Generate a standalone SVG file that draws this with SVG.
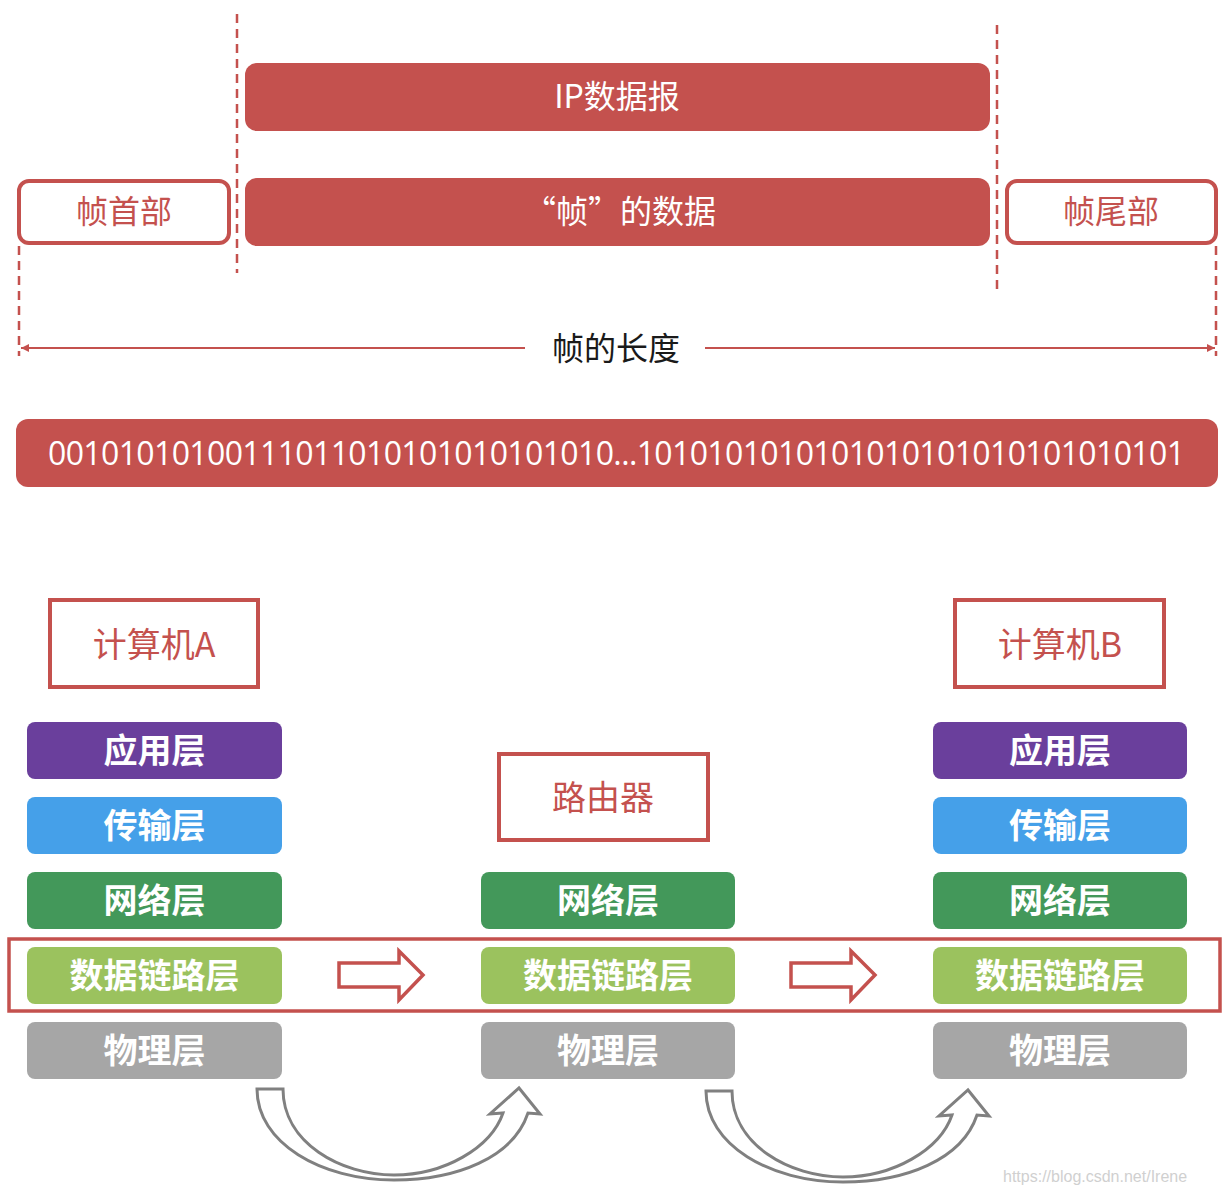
<svg xmlns="http://www.w3.org/2000/svg" width="1226" height="1194" viewBox="0 0 1226 1194">
<defs>
<style>
.bar{fill:#C4514E}
.hdr{fill:#fff;stroke:#C4514E;stroke-width:4}
.box{fill:#fff;stroke:#C4514E;stroke-width:4}
.dash{stroke:#C4514E;stroke-width:2.5;stroke-dasharray:9 6;fill:none}
.t{font-family:"Noto Sans CJK SC","Noto Sans",sans-serif;text-anchor:middle}
.tr{fill:#C4514E;font-size:32px}
.tw{fill:#fff;font-size:32px}
.tb{fill:#fff;font-size:34px;font-weight:bold}
.ap{fill:#6A3F9C}.tp{fill:#45A0E9}.nw{fill:#43985A}.dl{fill:#9BC25E}.ph{fill:#A6A6A6}
.blk{fill:#fff;stroke:#C4514E;stroke-width:3.5;stroke-linejoin:miter}
.crv{fill:#fff;stroke:#808080;stroke-width:3;stroke-linejoin:miter}
</style>
<marker id="ah" viewBox="0 0 10 10" refX="10" refY="5" markerWidth="10" markerHeight="8" markerUnits="userSpaceOnUse" orient="auto-start-reverse">
<path d="M0,0 L10,5 L0,10 Z" fill="#C4514E"/>
</marker>
</defs>
<rect width="1226" height="1194" fill="#fff"/>

<g id="connectors">
<line class="dash" x1="237" y1="14" x2="237" y2="273"/>
<line class="dash" x1="997" y1="25" x2="997" y2="295"/>
<line class="dash" x1="19" y1="246" x2="19" y2="356"/>
<line class="dash" x1="1216" y1="246" x2="1216" y2="356"/>
<line x1="21" y1="348" x2="525" y2="348" stroke="#C4514E" stroke-width="2" marker-start="url(#ah)"/>
<line x1="705" y1="348" x2="1215" y2="348" stroke="#C4514E" stroke-width="2" marker-end="url(#ah)"/>
<path id="blk1" class="blk" d="M339,963 L399,963 L399,951 L423,975 L399,1000 L399,987 L339,987 Z"/>
<path id="blk2" class="blk" transform="translate(452,0)" d="M339,963 L399,963 L399,951 L423,975 L399,1000 L399,987 L339,987 Z"/>
<path id="crv2" class="crv" d="M706,1091 L732,1091 C732,1145 790,1177 843,1177 C893,1177 940,1150 952,1115 L939,1116 L968,1090 L989,1116 L977,1115 C962,1160 905,1182 843,1182 C770,1182 706,1145 706,1091 Z"/>
<path id="crv1" class="crv" transform="translate(-449,-2)" d="M706,1091 L732,1091 C732,1145 790,1177 843,1177 C893,1177 940,1150 952,1115 L939,1116 L968,1090 L989,1116 L977,1115 C962,1160 905,1182 843,1182 C770,1182 706,1145 706,1091 Z"/>
</g>

<g id="ip-datagram"><rect class="bar" x="245" y="63" width="745" height="68" rx="12"/><text class="t tw" x="617" y="108">IP数据报</text></g>
<g id="frame-data"><rect class="bar" x="245" y="178" width="745" height="68" rx="12"/><text class="t tw" x="620" y="223">“帧”的数据</text></g>
<g id="frame-header"><rect class="hdr" x="19" y="181" width="210" height="62" rx="10"/><text class="t tr" x="124" y="223">帧首部</text></g>
<g id="frame-trailer"><rect class="hdr" x="1007" y="181" width="209" height="62" rx="10"/><text class="t tr" x="1111" y="223">帧尾部</text></g>
<g id="frame-length"><text class="t" x="616" y="360" font-size="32" fill="#1a1a1a">帧的长度</text></g>
<g id="bits"><rect class="bar" x="16" y="419" width="1202" height="68" rx="12"/><text x="48" y="465" font-family="'Open Sans','Noto Sans',sans-serif" font-size="32" fill="#fff" textLength="1137" lengthAdjust="spacing">00101010100111011010101010101010...1010101010101010101010101010101</text></g>

<g id="link-highlight"><rect x="9" y="939" width="1211" height="72" fill="none" stroke="#C4514E" stroke-width="3.5"/></g>

<g id="computer-a">
<rect class="box" x="50" y="600" width="208" height="87"/><text class="t tr" x="154" y="657" style="font-size:34px">计算机A</text>
<rect class="ap" x="27" y="722" width="255" height="57" rx="8"/><text class="t tb" x="154.5" y="763">应用层</text>
<rect class="tp" x="27" y="797" width="255" height="57" rx="8"/><text class="t tb" x="154.5" y="838">传输层</text>
<rect class="nw" x="27" y="872" width="255" height="57" rx="8"/><text class="t tb" x="154.5" y="913">网络层</text>
<rect class="dl" x="27" y="947" width="255" height="57" rx="8"/><text class="t tb" x="154.5" y="988">数据链路层</text>
<rect class="ph" x="27" y="1022" width="255" height="57" rx="8"/><text class="t tb" x="154.5" y="1063">物理层</text>
</g>

<g id="router">
<rect class="box" x="499" y="754" width="209" height="86"/><text class="t tr" x="603" y="810" style="font-size:34px">路由器</text>
<rect class="nw" x="481" y="872" width="254" height="57" rx="8"/><text class="t tb" x="608" y="913">网络层</text>
<rect class="dl" x="481" y="947" width="254" height="57" rx="8"/><text class="t tb" x="608" y="988">数据链路层</text>
<rect class="ph" x="481" y="1022" width="254" height="57" rx="8"/><text class="t tb" x="608" y="1063">物理层</text>
</g>

<g id="computer-b">
<rect class="box" x="955" y="600" width="209" height="87"/><text class="t tr" x="1060" y="657" style="font-size:34px">计算机B</text>
<rect class="ap" x="933" y="722" width="254" height="57" rx="8"/><text class="t tb" x="1060" y="763">应用层</text>
<rect class="tp" x="933" y="797" width="254" height="57" rx="8"/><text class="t tb" x="1060" y="838">传输层</text>
<rect class="nw" x="933" y="872" width="254" height="57" rx="8"/><text class="t tb" x="1060" y="913">网络层</text>
<rect class="dl" x="933" y="947" width="254" height="57" rx="8"/><text class="t tb" x="1060" y="988">数据链路层</text>
<rect class="ph" x="933" y="1022" width="254" height="57" rx="8"/><text class="t tb" x="1060" y="1063">物理层</text>
</g>

<g id="watermark"><text x="1003" y="1182" font-family="'Liberation Sans',sans-serif" font-size="16" fill="#d0d0d0">https://blog.csdn.net/Irene</text></g>
</svg>
